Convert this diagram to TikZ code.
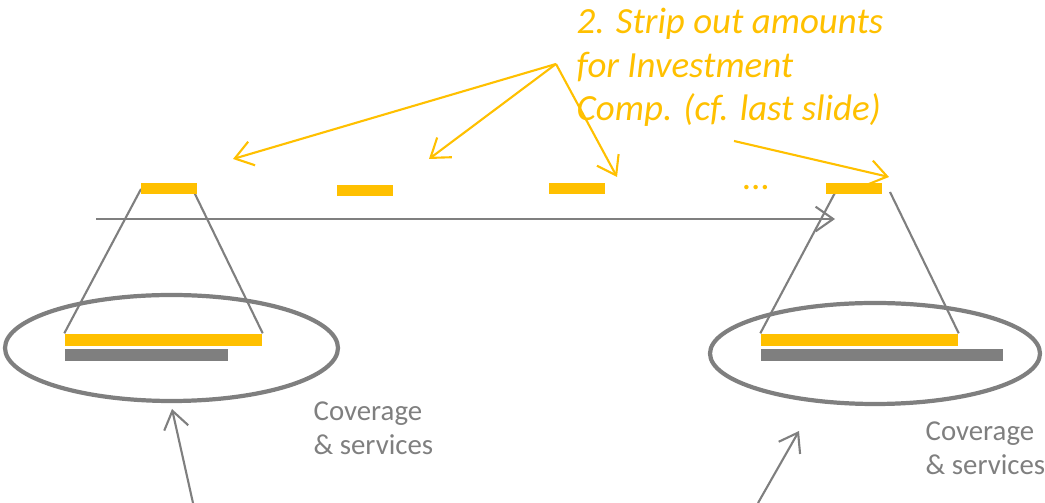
\documentclass[tikz,border=0pt]{standalone}
\usepackage{fontspec}
\setmainfont{Carlito}
\usetikzlibrary{arrows.meta,calc,positioning,shapes.geometric}
\definecolor{stripyellow}{RGB}{255,192,0}
\definecolor{periodgray}{RGB}{127,127,127}

\begin{document}
\begin{tikzpicture}[>={Straight Barb[length=5pt,width=7pt]},
 bar/.style={fill=stripyellow,inner sep=0pt,minimum height=0.11cm,minimum width=0.56cm},
 longbar/.style={fill=stripyellow,inner sep=0pt,minimum height=0.12cm,minimum width=1.97cm},
 graybar/.style={fill=periodgray,inner sep=0pt,minimum height=0.12cm},
 ring/.style={ellipse,draw=periodgray,line width=1.2pt,inner sep=0pt},
 link/.style={periodgray,line width=0.6pt},
 pointer/.style={->,stripyellow,line width=0.6pt},
 note/.style={text=periodgray,align=left,inner sep=0pt,anchor=north west,
   font=\fontsize{8.2}{9.7}\selectfont}]
 \useasboundingbox (0,0) rectangle (10.45,-5.03);
 \node[ring,minimum width=3.33cm,minimum height=1.06cm] (ea) at (1.715,-3.48) {};
 \node[ring,minimum width=3.30cm,minimum height=1.01cm] (eb) at (8.75,-3.535) {};
 \coordinate (l1) at (1.41,-1.89);
 \coordinate (l2) at (1.94,-1.92);
 \coordinate (r1) at (8.37,-1.89);
 \coordinate (r2) at (8.90,-1.92);
 \node[longbar] (la) at (1.635,-3.40) {};
 \node[graybar,minimum width=1.63cm] (lg) at (1.465,-3.55) {};
 \node[longbar] (ra) at (8.595,-3.40) {};
 \node[graybar,minimum width=2.42cm] (rg) at (8.82,-3.55) {};
 \foreach \x/\y in {l1/la.north west,l2/la.north east,r1/ra.north west,r2/ra.north east}
   \draw[link] (\x)--(\y);
 \node[bar] (t1) at (1.69,-1.89) {};
 \node[bar] (t2) at (3.65,-1.91) {};
 \node[bar] (t3) at (5.77,-1.89) {};
 \node[bar] (t4) at (8.54,-1.89) {};
 \node[text=stripyellow,anchor=base,inner sep=0pt,
   font=\fontsize{10.5}{12.5}\selectfont\itshape] (dots) at (7.565,-1.895) {...};
 \coordinate (tl0) at (0.96,-2.19);
 \coordinate (tl1) at (8.35,-2.19);
 \draw[link,->] (tl0)--(tl1);
 \node[text=stripyellow,align=left,inner sep=0pt,anchor=north west,
   font=\fontsize{10.5}{12.5}\selectfont\itshape] (title) at (5.76,-0.07)
   {2. Strip out amounts\\for Investment\\Comp. (cf. last slide)};
 \coordinate (apex) at (5.56,-0.64);
 \coordinate (p1) at (2.33,-1.59);
 \coordinate (p2) at (4.29,-1.59);
 \coordinate (p3) at (6.17,-1.77);
 \coordinate (q0) at (7.34,-1.41);
 \coordinate (q1) at (8.89,-1.77);
 \foreach \y in {p1,p2,p3}
   \draw[pointer] (apex)--(\y);
 \draw[pointer] (q0)--(q1);
 \node[note] (cova) at (3.13,-4.01) {Coverage\\\& services};
 \node[note] (covb) at (9.25,-4.21) {Coverage\\\& services};
 \coordinate (a0) at (1.93,-5.03);
 \coordinate (a1) at (1.72,-4.09);
 \coordinate (b0) at (7.58,-5.03);
 \coordinate (b1) at (7.99,-4.31);
 \draw[link,->] (a0)--(a1);
 \draw[link,->] (b0)--(b1);
\end{tikzpicture}
\end{document}
